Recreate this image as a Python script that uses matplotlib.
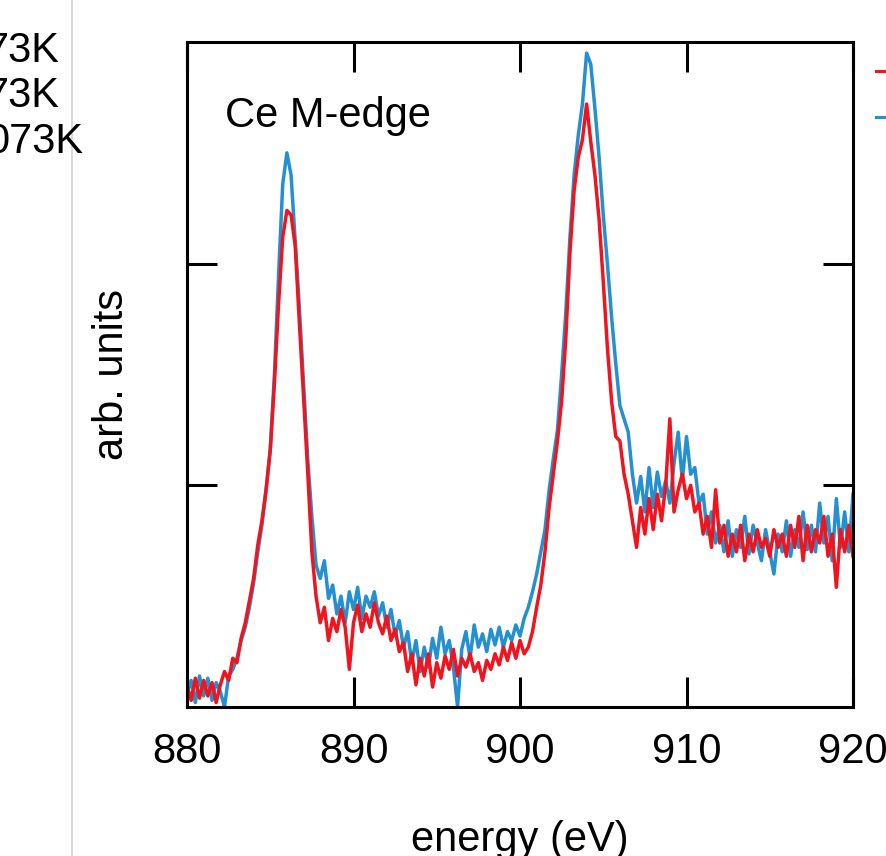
import numpy as np
import matplotlib.pyplot as plt
from matplotlib.lines import Line2D

plt.rcParams['font.family'] = ['Liberation Sans', 'DejaVu Sans']

# Ce M-edge spectra, 0.25 eV steps from 880 to 920 eV
red_values = [
    0.10, 0.03, 0.13, 0.04, 0.12, 0.05, 0.11, 0.02,
    0.10, 0.16, 0.12, 0.22, 0.20, 0.31, 0.38, 0.48,
    0.58, 0.73, 0.84, 0.98, 1.16, 1.46, 1.82, 2.12,
    2.24, 2.22, 2.08, 1.73, 1.40, 1.06, 0.70, 0.50,
    0.38, 0.45, 0.30, 0.40, 0.34, 0.44, 0.36, 0.17,
    0.38, 0.46, 0.34, 0.42, 0.36, 0.47, 0.38, 0.33,
    0.41, 0.30, 0.35, 0.25, 0.29, 0.16, 0.24, 0.10,
    0.22, 0.14, 0.24, 0.09, 0.20, 0.13, 0.23, 0.17,
    0.26, 0.14, 0.22, 0.18, 0.24, 0.16, 0.20, 0.12,
    0.21, 0.17, 0.24, 0.19, 0.27, 0.21, 0.29, 0.22,
    0.30, 0.24, 0.27, 0.34, 0.45, 0.55, 0.70, 0.90,
    1.05, 1.20, 1.38, 1.66, 2.05, 2.33, 2.48, 2.56,
    2.72, 2.55, 2.40, 2.20, 1.92, 1.62, 1.38, 1.22,
    1.20, 1.05, 0.96, 0.84, 0.72, 0.90, 0.78, 0.94,
    0.80, 0.96, 0.84, 1.00, 1.30, 0.88, 0.98, 1.05,
    0.94, 1.00, 0.88, 0.92, 0.78, 0.86, 0.72, 0.98,
    0.74, 0.82, 0.68, 0.78, 0.70, 0.82, 0.66, 0.78,
    0.70, 0.80, 0.72, 0.76, 0.68, 0.80, 0.72, 0.78,
    0.68, 0.82, 0.72, 0.86, 0.66, 0.82, 0.70, 0.80,
    0.74, 0.86, 0.68, 0.78, 0.54, 0.80, 0.70, 0.82,
    0.68,
]

blue_values = [
    0.06, 0.12, 0.02, 0.14, 0.05, 0.13, 0.03, 0.11,
    0.07, 0.00, 0.14, 0.17, 0.22, 0.30, 0.36, 0.45,
    0.56, 0.70, 0.82, 0.98, 1.16, 1.50, 1.95, 2.36,
    2.50, 2.40, 2.10, 1.80, 1.46, 1.12, 0.86, 0.64,
    0.58, 0.66, 0.49, 0.55, 0.42, 0.50, 0.38, 0.52,
    0.44, 0.54, 0.40, 0.50, 0.45, 0.52, 0.41, 0.47,
    0.36, 0.44, 0.32, 0.39, 0.27, 0.34, 0.20, 0.30,
    0.16, 0.27, 0.18, 0.31, 0.22, 0.36, 0.24, 0.30,
    0.18, 0.00, 0.26, 0.34, 0.22, 0.37, 0.27, 0.33,
    0.25, 0.35, 0.28, 0.36, 0.27, 0.34, 0.30, 0.37,
    0.32, 0.40, 0.45, 0.52, 0.60, 0.70, 0.80, 0.98,
    1.12, 1.25, 1.50, 1.78, 2.12, 2.40, 2.58, 2.72,
    2.95, 2.90, 2.70, 2.48, 2.22, 2.00, 1.76, 1.55,
    1.36, 1.30, 1.24, 1.05, 0.92, 1.04, 0.88, 1.08,
    0.90, 1.06, 0.95, 1.02, 0.92, 1.10, 1.24, 1.02,
    1.22, 1.05, 1.08, 0.92, 0.96, 0.78, 0.88, 0.74,
    0.82, 0.70, 0.84, 0.68, 0.80, 0.72, 0.86, 0.69,
    0.82, 0.74, 0.66, 0.80, 0.70, 0.60, 0.78, 0.70,
    0.84, 0.68, 0.80, 0.72, 0.88, 0.71, 0.82, 0.70,
    0.92, 0.74, 0.86, 0.66, 0.94, 0.72, 0.88, 0.70,
    0.96,
]

energy = np.linspace(880, 920, len(red_values))

x_ticks = [880, 890, 900, 910, 920]
y_ticks = [1, 2]
# tail ends of the neighbouring panel's legend, cut off by the crop
legend_tail = ['73K', '73K', '073K']

RED = '#f0141e'
BLUE = '#2490d0'
FS = 30

W, H = 887, 856
fig = plt.figure(figsize=(W / 100, H / 100), dpi=100)
ax = fig.add_axes([187 / W, 1 - 707 / H, 666 / W, 665 / H])

ax.plot(energy, blue_values, color=BLUE, lw=2.5)
ax.plot(energy, red_values, color=RED, lw=2.5)

ax.set_xlim(880, 920)
ax.set_ylim(0, 3)
ax.set_xticks(x_ticks)
ax.set_yticks(y_ticks)
ax.tick_params(axis='both', direction='in', length=21.6, width=2.2,
               top=True, right=True, labelsize=FS, pad=18)
ax.tick_params(axis='y', labelleft=False)
for sp in ax.spines.values():
    sp.set_linewidth(2.2)

ax.text(0.057, 0.872, 'Ce M-edge', transform=ax.transAxes, fontsize=FS, va='baseline')

ax.set_xlabel('energy (eV)', fontsize=FS)
ax.xaxis.set_label_coords(0.5, -0.170)
ax.set_ylabel('arb. units', fontsize=FS)
ax.yaxis.set_label_coords(-0.0826, 0.5)

# pieces of the neighbouring panels
for txt, base in zip(legend_tail, [62, 107, 153]):
    fig.text(-14 / W, 1 - base / H, txt, fontsize=FS, va='baseline', ha='left')
fig.add_artist(Line2D([72.5 / W] * 2, [0, 1], transform=fig.transFigure,
                      color='#d4d4d4', lw=1.2))
fig.add_artist(Line2D([876 / W, 1.0], [1 - 71 / H] * 2, transform=fig.transFigure,
                      color=RED, lw=2.2))
fig.add_artist(Line2D([876 / W, 1.0], [1 - 117 / H] * 2, transform=fig.transFigure,
                      color=BLUE, lw=2.2))

fig.savefig('out.png', dpi=100)
